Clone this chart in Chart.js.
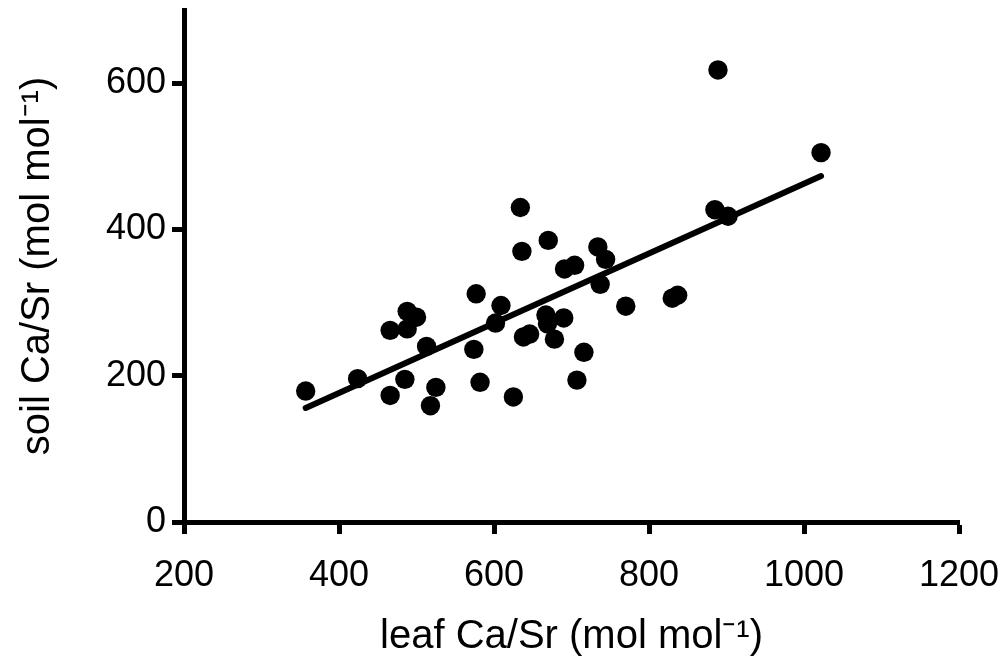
<!DOCTYPE html>
<html>
<head>
<meta charset="utf-8">
<script src="https://cdn.jsdelivr.net/npm/chart.js@4"></script>
<style>
  html, body { margin: 0; padding: 0; background: #fff; }
  #wrap { width: 1005px; height: 665px; }
</style>
</head>
<body>
<div id="wrap"><canvas id="scatterChart"></canvas></div>
<script>
// leaf vs soil Ca/Sr
const leafCaSr = [
  357, 424, 488, 500, 466, 488, 513, 485, 466, 525,
  518, 634, 670, 636, 734, 744, 691, 704, 737, 577,
  609, 602, 667, 690, 669, 638, 646, 678, 574, 716,
  582, 625, 707, 885, 902, 770, 830, 837, 1022, 889
];
const soilCaSr = [
  179, 196, 288, 280, 262, 264, 240, 195, 173, 184,
  159, 430, 385, 370, 376, 359, 346, 351, 325, 312,
  296, 272, 283, 279, 271, 253, 257, 250, 236, 232,
  191, 171, 194, 427, 418, 295, 306, 310, 505, 618
];
// regression line end points
const fitX = [357, 1022];
const fitY = [156, 473];

const xTicks = [200, 400, 600, 800, 1000, 1200];
const yTicks = [0, 200, 400, 600];

const font = "'Liberation Sans', Arial, Helvetica, sans-serif";

const points = leafCaSr.map((x, i) => ({ x: x, y: soilCaSr[i] }));
const fit = fitX.map((x, i) => ({ x: x, y: fitY[i] }));

new Chart(document.getElementById("scatterChart"), {
  type: "scatter",
  data: {
    datasets: [
      {
        label: "regression",
        type: "line",
        data: fit,
        borderColor: "#000",
        borderWidth: 6,
        borderCapStyle: "round",
        pointRadius: 0,
        fill: false,
        tension: 0
      },
      {
        label: "sites",
        data: points,
        pointRadius: 9.7,
        pointBorderWidth: 0,
        pointBackgroundColor: "#000",
        pointBorderColor: "#000"
      }
    ]
  },
  options: {
    responsive: true,
    maintainAspectRatio: false,
    animation: false,
    devicePixelRatio: 1,
    layout: { padding: { top: 10, right: 46, bottom: 0, left: 0 } },
    plugins: { legend: { display: false }, tooltip: { enabled: false } },
    scales: {
      x: {
        type: "linear",
        min: 200,
        max: 1200,
        afterBuildTicks: (s) => { s.ticks = xTicks.map((v) => ({ value: v })); },
        afterFit: (s) => { s.height = 143; s.paddingLeft = 0; s.paddingRight = 0; },
        grid: { drawOnChartArea: false, drawTicks: true, tickLength: 12, tickWidth: 5, tickColor: "#000" },
        border: { color: "#000", width: 5 },
        ticks: {
          color: "#000", padding: 20, maxRotation: 0,
          font: { family: font, size: 36 },
          callback: (v) => String(v)
        },
        title: {
          display: true,
          text: "leaf Ca/Sr (mol mol⁻¹)",
          color: "#000",
          font: { family: font, size: 40 },
          padding: { top: 4, bottom: 4 }
        }
      },
      y: {
        min: 0,
        max: 700,
        afterBuildTicks: (s) => { s.ticks = yTicks.map((v) => ({ value: v })); },
        afterFit: (s) => { s.width = 184; s.paddingTop = 0; s.paddingBottom = 0; },
        grid: { drawOnChartArea: false, drawTicks: true, tickLength: 12, tickWidth: 5, tickColor: "#000" },
        border: { color: "#000", width: 5 },
        ticks: {
          color: "#000", padding: 6,
          font: { family: font, size: 36 },
          callback: (v) => String(v)
        },
        title: {
          display: true,
          text: "soil Ca/Sr (mol mol⁻¹)",
          color: "#000",
          font: { family: font, size: 40 },
          padding: { top: 14, bottom: 0 }
        }
      }
    }
  }
});
</script>
</body>
</html>
